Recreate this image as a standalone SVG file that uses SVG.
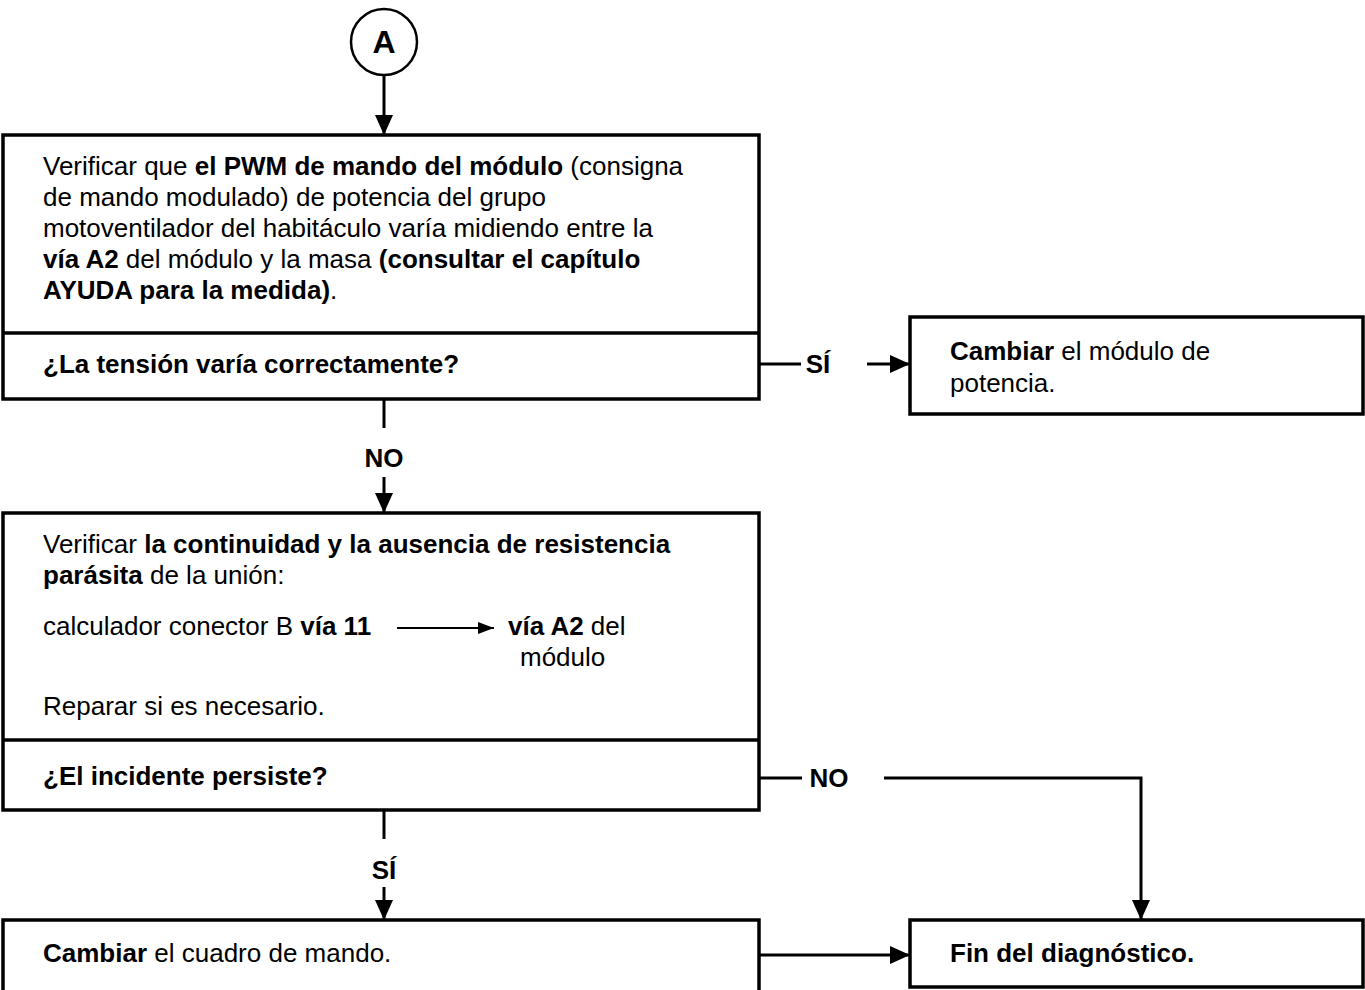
<svg xmlns="http://www.w3.org/2000/svg" width="1365" height="990" viewBox="0 0 1365 990">
<defs>
<style>
.box{fill:#fff;stroke:#000;stroke-width:3.5}
.div{stroke:#000;stroke-width:3.5}
.ln{fill:none;stroke:#000;stroke-width:3}
.t{font-family:"Liberation Sans",Arial,sans-serif;font-size:26px;fill:#000}
.b{font-weight:bold}
</style>
<marker id="ah" markerWidth="20" markerHeight="20" viewBox="0 0 20 20" refX="20" refY="10" orient="auto" markerUnits="userSpaceOnUse">
<path d="M0,1 L20,10 L0,19 Z" fill="#000"/>
</marker>
<marker id="ahs" markerWidth="16" markerHeight="14" viewBox="0 0 16 14" refX="16" refY="7" orient="auto" markerUnits="userSpaceOnUse">
<path d="M0,1 L16,7 L0,13 Z" fill="#000"/>
</marker>
</defs>
<rect width="1365" height="990" fill="#fff"/>

<g id="startA">
<circle cx="384" cy="42" r="33" fill="#fff" stroke="#000" stroke-width="2.5"/>
<text x="384" y="53" text-anchor="middle" class="t b" style="font-size:32px">A</text>
</g>

<g id="node1">
<rect class="box" x="3" y="135" width="756" height="264"/>
<line class="div" x1="3" y1="333" x2="759" y2="333"/>
<text class="t" x="43" y="175">Verificar que <tspan class="b">el PWM de mando del módulo</tspan> (consigna</text>
<text class="t" x="43" y="206">de mando modulado) de potencia del grupo</text>
<text class="t" x="43" y="237">motoventilador del habitáculo varía midiendo entre la</text>
<text class="t" x="43" y="268"><tspan class="b">vía A2</tspan> del módulo y la masa <tspan class="b">(consultar el capítulo</tspan></text>
<text class="t" x="43" y="299"><tspan class="b">AYUDA para la medida)</tspan>.</text>
<text class="t b" x="43" y="373">¿La tensión varía correctamente?</text>
</g>

<g id="node2">
<rect class="box" x="910" y="317" width="453" height="97"/>
<text class="t" x="950" y="360"><tspan class="b">Cambiar</tspan> el módulo de</text>
<text class="t" x="950" y="392">potencia.</text>
</g>

<g id="node3">
<rect class="box" x="3" y="513" width="756" height="297"/>
<line class="div" x1="3" y1="740" x2="759" y2="740"/>
<text class="t" x="43" y="553">Verificar <tspan class="b">la continuidad y la ausencia de resistencia</tspan></text>
<text class="t" x="43" y="584"><tspan class="b">parásita</tspan> de la unión:</text>
<text class="t" x="43" y="635">calculador conector B <tspan class="b">vía 11</tspan></text>
<line x1="397" y1="628" x2="494" y2="628" stroke="#000" stroke-width="2" marker-end="url(#ahs)"/>
<text class="t" x="508" y="635"><tspan class="b">vía A2</tspan> del</text>
<text class="t" x="520" y="666">módulo</text>
<text class="t" x="43" y="715">Reparar si es necesario.</text>
<text class="t b" x="43" y="785">¿El incidente persiste?</text>
</g>

<g id="node4">
<rect class="box" x="3" y="920" width="756" height="90"/>
<text class="t" x="43" y="962"><tspan class="b">Cambiar</tspan> el cuadro de mando.</text>
</g>

<g id="node5">
<rect class="box" x="910" y="920" width="453" height="67"/>
<text class="t b" x="950" y="962">Fin del diagnóstico.</text>
</g>

<g id="connectors">
<line class="ln" x1="384" y1="75" x2="384" y2="135" marker-end="url(#ah)"/>
<line class="ln" x1="384" y1="399" x2="384" y2="428"/>
<text class="t b" x="384" y="467" text-anchor="middle">NO</text>
<line class="ln" x1="384" y1="477" x2="384" y2="513" marker-end="url(#ah)"/>
<line class="ln" x1="759" y1="364" x2="801" y2="364"/>
<text class="t b" x="818" y="373" text-anchor="middle">SÍ</text>
<line class="ln" x1="867" y1="364" x2="910" y2="364" marker-end="url(#ah)"/>
<line class="ln" x1="384" y1="810" x2="384" y2="839"/>
<text class="t b" x="384" y="879" text-anchor="middle">SÍ</text>
<line class="ln" x1="384" y1="887" x2="384" y2="920" marker-end="url(#ah)"/>
<line class="ln" x1="759" y1="778" x2="802" y2="778"/>
<text class="t b" x="829" y="787" text-anchor="middle">NO</text>
<polyline class="ln" points="884,778 1141,778 1141,920" marker-end="url(#ah)"/>
<line class="ln" x1="759" y1="955" x2="910" y2="955" marker-end="url(#ah)"/>
</g>
</svg>
